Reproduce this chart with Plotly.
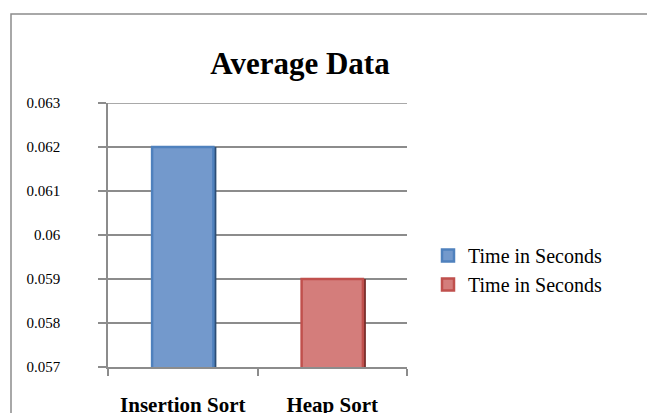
import plotly.graph_objects as go

categories = ["Insertion Sort", "Heap Sort"]
insertion_time = [0.0620]
heap_time = [0.0590]
series_names = ["Time in Seconds", "Time in Seconds"]
y_ticks = [0.057, 0.058, 0.059, 0.06, 0.061, 0.062, 0.063]

serif = "Liberation Serif, Times New Roman, serif"
grid = "#8c8c8c"

# the page body has an 8px margin, so the layout is shifted back by that
l, r, t, b = 100, 256, 95, 54
pw, ph = 655 - l - r, 413 - t - b

fig = go.Figure()

# dark drop shadows behind the bars
for cat, val, col in [(categories[0], insertion_time, "#2c4d75"),
                      (categories[1], heap_time, "#772c2a")]:
    fig.add_trace(go.Bar(
        x=[cat], y=val, width=0.41, offset=-0.185,
        marker=dict(color=col, line=dict(width=0)),
        showlegend=False, hoverinfo="skip",
    ))

fig.add_trace(go.Bar(
    x=categories[:1], y=insertion_time, name=series_names[0],
    width=0.41, offset=-0.205,
    marker=dict(color="#7399cc", line=dict(color="#4f81bd", width=2.5)),
))
fig.add_trace(go.Bar(
    x=categories[1:], y=heap_time, name=series_names[1],
    width=0.41, offset=-0.205,
    marker=dict(color="#d47d7b", line=dict(color="#c0504d", width=2.5)),
))

fig.update_layout(
    width=655, height=413,
    barmode="overlay",
    paper_bgcolor="white", plot_bgcolor="white",
    margin=dict(l=l, r=r, t=t, b=b, autoexpand=False),
    title=dict(text="<b>Average Data</b>", x=(300 - 8) / 655, xanchor="center",
               y=1 - (63 - 8) / 413, yanchor="middle",
               font=dict(family=serif, size=31, color="black")),
    legend=dict(x=(428 - 108) / pw, y=(367 - 270) / ph, xanchor="left", yanchor="middle",
                font=dict(family=serif, size=20, color="black"),
                bgcolor="rgba(0,0,0,0)", tracegroupgap=0, itemwidth=30),
    showlegend=True,
    shapes=[
        dict(type="rect", xref="paper", yref="paper",
             x0=(11 - 108) / pw, x1=(670 - 108) / pw,
             y0=-0.5, y1=(367 - 14) / ph,
             line=dict(color=grid, width=1.5), layer="below"),
        # top gridline, which plotly leaves out at the range edge
        dict(type="line", xref="paper", yref="y", x0=0, x1=1,
             y0=y_ticks[-1], y1=y_ticks[-1],
             line=dict(color=grid, width=1.5), layer="below"),
    ],
)

fig.update_yaxes(
    range=[0.057, 0.063], tickvals=y_ticks,
    ticktext=[str(v) for v in y_ticks],
    showgrid=True, gridcolor=grid, gridwidth=1.5,
    showline=True, linecolor=grid, linewidth=1.5,
    ticks="outside", ticklen=8, tickcolor=grid, tickwidth=1.5,
    ticklabelstandoff=35,
    tickfont=dict(family=serif, size=15, color="black"),
    zeroline=False,
)
fig.update_xaxes(
    range=[-0.5, 1.5],
    showline=True, linecolor=grid, linewidth=1.5,
    ticks="outside", tickson="boundaries", ticklen=7,
    tickcolor=grid, tickwidth=1.5,
    tickfont=dict(family=serif, size=21, color="black"),
    tickvals=categories, ticktext=["<b>" + c + "</b>" for c in categories],
    ticklabelstandoff=18,
)

fig.write_html("out.html")
